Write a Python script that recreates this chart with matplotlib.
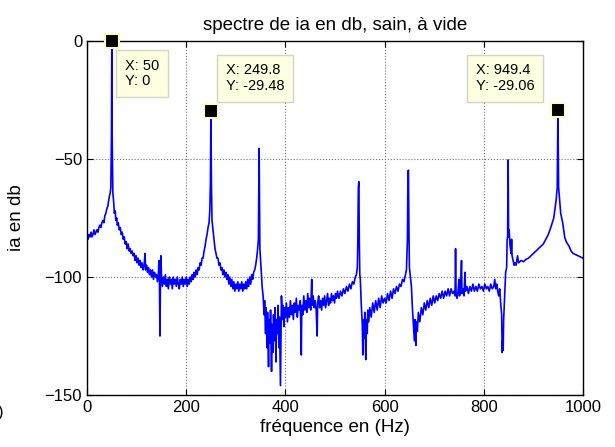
import matplotlib
matplotlib.use("Agg")
import matplotlib.pyplot as plt
import numpy as np

plt.rcParams['font.family'] = ['Liberation Sans', 'DejaVu Sans']

# spectre, couples (Hz, dB)
seg_0_250 = [(0, -83), (2, -84), (4, -82), (6, -83), (8, -81), (10, -83), (12, -82),
             (14, -80), (16, -82), (18, -81), (20, -80), (22, -81), (24, -79), (26, -78),
             (28, -79), (30, -77), (32, -76), (34, -77), (36, -74), (38, -73), (40, -71),
             (42, -70), (44, -67), (46, -65), (47, -64), (48, -62), (49.3, -40), (50, 0),
             (50.7, -40), (52, -64), (54, -69), (55, -73), (57, -72), (58, -76), (60, -75),
             (61, -78), (63, -77), (65, -80), (67, -79), (69, -82), (71, -81), (73, -84),
             (75, -83), (77, -86), (79, -85), (81, -88), (83, -86), (85, -89), (87, -88),
             (89, -90), (91, -89), (93, -91), (95, -90), (97, -93), (99, -91), (101, -94),
             (103, -92), (105, -95), (107, -93), (109, -96), (111, -94), (113, -97),
             (115, -95), (117, -90), (118, -97), (120, -95), (122, -98), (124, -96),
             (126, -99), (128, -97), (130, -100), (132, -97), (134, -101), (136, -98),
             (138, -100), (140, -99), (142, -102), (144, -98), (145, -93), (146, -101),
             (147, -125), (148, -103), (149, -91), (150, -99), (152, -104), (154, -100),
             (156, -103), (158, -99), (160, -104), (162, -101), (164, -105), (166, -100),
             (168, -103), (170, -101), (172, -105), (174, -100), (176, -103), (178, -101),
             (180, -104), (182, -100), (184, -103), (186, -105), (188, -101), (190, -103),
             (192, -100), (194, -104), (196, -101), (198, -103), (200, -100), (202, -104),
             (204, -101), (206, -103), (208, -100), (210, -102), (212, -99), (214, -101),
             (216, -98), (218, -100), (220, -97), (222, -99), (224, -96), (226, -97),
             (228, -94), (230, -95), (232, -92), (234, -92), (236, -89), (238, -87),
             (240, -84), (242, -82), (244, -79), (246, -77), (247.5, -72), (248.8, -60),
             (249.8, -29.48), (250.8, -60), (252, -76), (254, -80)]

seg_250_400 = [(256, -84), (258, -88), (260, -90), (262, -92), (264, -92), (266, -95),
               (268, -94), (270, -97), (272, -96), (274, -99), (276, -97), (278, -100),
               (280, -98), (282, -101), (284, -99), (286, -103), (288, -100), (290, -104),
               (292, -101), (294, -105), (296, -102), (298, -106), (300, -103), (302, -105),
               (304, -102), (306, -106), (308, -103), (310, -105), (312, -102), (314, -106),
               (316, -103), (318, -105), (320, -102), (322, -105), (324, -101), (326, -104),
               (328, -100), (330, -103), (332, -99), (334, -101), (336, -98), (338, -97),
               (340, -95), (342, -92), (344, -88), (345.5, -84), (346.3, -65), (347, -45.5),
               (347.7, -65), (348.5, -88), (350, -93), (352, -100), (353, -104), (355, -108),
               (357, -116), (358, -110), (360, -124), (361, -113), (363, -130), (364, -115),
               (366, -138), (367, -118), (369, -128), (370, -114), (372, -140), (373, -120),
               (375, -132), (376, -116), (378, -127), (379, -113), (381, -136), (382, -118),
               (384, -124), (385, -112), (387, -130), (388, -117), (390, -146), (391, -125),
               (392, -108), (394, -118), (395, -112), (397, -121), (398, -113), (400, -117)]

seg_400_700 = [(402, -111), (404, -119), (406, -113), (408, -117), (410, -110), (412, -116),
               (414, -112), (416, -118), (418, -111), (420, -115), (422, -109), (424, -117),
               (426, -112), (428, -114), (430, -110), (432, -133), (433, -112), (435, -116),
               (437, -108), (439, -114), (441, -110), (443, -115), (445, -107), (447, -113),
               (449, -109), (451, -114), (453, -101), (454, -112), (456, -108), (458, -113),
               (460, -110), (462, -114), (464, -125), (465, -111), (467, -108), (469, -113),
               (471, -110), (473, -114), (475, -109), (477, -112), (479, -108), (481, -113),
               (483, -110), (485, -107), (487, -112), (489, -109), (491, -111), (493, -107),
               (495, -110), (497, -108), (499, -111), (501, -107), (503, -109), (505, -106),
               (508, -109), (511, -106), (514, -108), (517, -105), (520, -107), (523, -104),
               (526, -106), (529, -103), (532, -105), (535, -102), (538, -103), (541, -100),
               (543, -99), (545, -96), (546, -85), (547, -62), (548, -59.6), (549, -85),
               (550, -99), (551, -101), (553, -112), (555, -120), (556, -133), (557, -118),
               (559, -126), (560, -115), (562, -135), (563, -118), (565, -124), (566, -114),
               (568, -119), (570, -113), (573, -117), (576, -111), (579, -115), (582, -110),
               (585, -114), (588, -109), (591, -113), (594, -108), (597, -111), (600, -109),
               (603, -111), (606, -107), (609, -110), (612, -106), (615, -109), (618, -105),
               (621, -107), (624, -104), (627, -106), (630, -103), (633, -104), (636, -101),
               (639, -102), (642, -99), (644, -97), (646, -84), (647, -56), (648, -54.7),
               (649, -80), (650, -96), (652, -100), (654, -104), (656, -113), (658, -120),
               (660, -127), (661, -118), (663, -129), (664, -119), (666, -123), (668, -115),
               (671, -119), (674, -113), (677, -116), (680, -111), (683, -114), (686, -110),
               (689, -113), (692, -109), (695, -112), (698, -108)]

seg_700_1000 = [(701, -111), (704, -108), (707, -110), (710, -107), (713, -109), (716, -106),
                (719, -109), (722, -106), (725, -108), (728, -105), (731, -108), (734, -105),
                (737, -107), (740, -106), (742, -108), (743, -88), (744, -107), (746, -109),
                (748, -106), (750, -101), (751, -108), (753, -106), (755, -93), (756, -107),
                (758, -105), (760, -108), (762, -98), (763, -106), (766, -104), (769, -107),
                (772, -104), (775, -106), (778, -103), (781, -106), (784, -104), (787, -106),
                (790, -103), (793, -105), (796, -104), (799, -106), (802, -103), (805, -105),
                (808, -104), (811, -106), (814, -103), (817, -105), (820, -104), (822, -101),
                (824, -105), (826, -103), (828, -106), (830, -108), (832, -105), (834, -111),
                (836, -116), (837, -132), (838, -127), (839, -131), (840, -118), (842, -108),
                (844, -98), (846, -96), (847, -84), (848, -83), (849, -50.4), (850, -83),
                (851, -80), (853, -87), (855, -90), (856, -84), (857, -91), (859, -93),
                (861, -95), (863, -94), (865, -95), (868, -91), (870, -94), (875, -93),
                (880, -93.5), (885, -92.5), (890, -92), (895, -91), (900, -90), (905, -89),
                (910, -88), (915, -87), (920, -86), (925, -84), (930, -82), (935, -79),
                (938, -77), (941, -75), (944, -70), (946, -67), (948, -62), (949.4, -29.06),
                (950.8, -62), (953, -68), (955, -73), (957, -75), (959, -77), (961, -80),
                (963, -83), (966, -85), (969, -86), (972, -87), (976, -89), (980, -90),
                (985, -90.5), (990, -91), (995, -91.5), (1000, -92)]

# points de donnees affiches (datatips) et position du texte
tips_x = [50, 249.8, 949.4]
tips_y = [0, -29.48, -29.06]
tips_box = [(77, -7.5), (280, -9.5), (784, -9.5)]

freq, db = zip(*(seg_0_250 + seg_250_400 + seg_400_700 + seg_700_1000))
freq = np.array(freq)
db = np.array(db)

fig = plt.figure(figsize=(6.15, 4.47), dpi=100)
ax = fig.add_axes([0.1415, 0.1163, 0.8065, 0.7919])

ax.plot(freq, db, color='#0000ff', linewidth=1.2)

ax.set_xlim(0, 1000)
ax.set_ylim(-150, 0)
ax.set_xticks([0, 200, 400, 600, 800, 1000])
ax.set_yticks([-150, -100, -50, 0])
ax.grid(True, linestyle=':', color='0.45', linewidth=0.8)
ax.tick_params(direction='in', top=True, right=True, labelsize=12, length=4)
for sp in ax.spines.values():
    sp.set_linewidth(1.0)

ax.set_title("spectre de ia en db, sain, à vide", fontsize=13.5, pad=8)
ax.set_xlabel("fréquence en (Hz)", fontsize=13.5, labelpad=3)
ax.set_ylabel("ia en db", fontsize=13.5, labelpad=14)

for tx, ty, (bx, by) in zip(tips_x, tips_y, tips_box):
    ax.plot(tx, ty, marker='s', color='black', markersize=10, markeredgecolor='#fffcc8',
            markeredgewidth=1.5, clip_on=False, zorder=10)
    lab = "X: {}\nY: {}".format(tx, ty)
    ax.text(bx, by, lab, ha='left', va='top', fontsize=10.5, zorder=11, linespacing=1.15,
            bbox=dict(boxstyle='square,pad=0.6', fc='#ffffe1', ec='#d4d4c4', lw=1))

# bout de caractere coupe au bord gauche
fig.text(0.006, 1 - 413 / 447, ')', fontsize=12, ha='right', va='center')

fig.savefig("out.png", dpi=100)
